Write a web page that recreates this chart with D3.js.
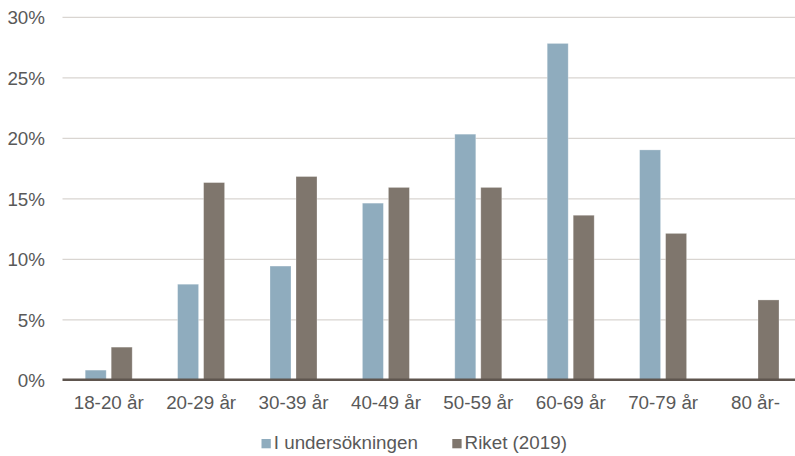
<!DOCTYPE html>
<html>
<head>
<meta charset="utf-8">
<script src="https://cdn.jsdelivr.net/npm/d3@7"></script>
<style>
  html, body { margin: 0; padding: 0; background: #fff; }
  svg { display: block; }
  text { font-family: "Liberation Sans", Arial, sans-serif; }
</style>
</head>
<body>
<svg id="chart" width="795" height="456"></svg>
<script>
// Age groups and shares (percent) per series
const categories = ["18-20 år", "20-29 år", "30-39 år", "40-49 år", "50-59 år", "60-69 år", "70-79 år", "80 år-"];
const seriesNames = ["I undersökningen", "Riket (2019)"];
const undersokningen = [0.8, 7.9, 9.4, 14.6, 20.3, 27.8, 19.0, 0];
const riket = [2.7, 16.3, 16.8, 15.9, 15.9, 13.6, 12.1, 6.6];
const yTicks = [0, 5, 10, 15, 20, 25, 30];
const colors = ["#8FACBE", "#7F766D"];

const svg = d3.select("#chart");
const W = 795, H = 456;
const plotLeft = 62.5, plotRight = 801.7;
const plotTop = 16.8, plotBottom = 379.8;

const x = d3.scaleBand().domain(categories).range([plotLeft, plotRight]).padding(0);
const x1 = d3.scaleBand().domain(seriesNames).range([-23.5, 23.5]).paddingInner(5 / 26).paddingOuter(0);
const y = d3.scaleLinear().domain([0, 30]).range([plotBottom, plotTop]);

const values = [undersokningen, riket];

// Gridlines
const grid = svg.append("g")
  .attr("transform", `translate(${plotLeft},0)`)
  .call(d3.axisLeft(y).tickValues(yTicks.filter(t => t > 0)).tickSize(-(W - plotLeft)).tickFormat(""));
grid.select(".domain").remove();
grid.selectAll(".tick line").attr("stroke", "#D9D5D1").attr("stroke-width", 1.3);

// Y tick labels
const yAxis = svg.append("g")
  .attr("transform", `translate(45,0)`)
  .call(d3.axisLeft(y).tickValues(yTicks).tickSize(0).tickPadding(0).tickFormat(d => d + "%"));
yAxis.select(".domain").remove();
yAxis.selectAll("text")
  .attr("fill", "#595959")
  .style("font-size", "18.8px")
  .attr("dy", "0.36em");

// Bars
const groups = svg.append("g").selectAll("g")
  .data(categories)
  .join("g")
  .attr("transform", d => `translate(${x(d) + x.bandwidth() / 2},0)`);

groups.selectAll("rect")
  .data((c, i) => seriesNames.map((s, k) => ({ s, k, v: values[k][i] })))
  .join("rect")
  .filter(d => d.v > 0)
  .attr("x", d => x1(d.s))
  .attr("width", x1.bandwidth())
  .attr("y", d => y(d.v))
  .attr("height", d => y(0) - y(d.v))
  .attr("fill", d => colors[d.k])
  .attr("stroke", "#ffffff")
  .attr("stroke-opacity", 0.35)
  .attr("stroke-width", 0.8);

// X axis
const xAxis = svg.append("g")
  .attr("transform", `translate(0,${plotBottom})`)
  .call(d3.axisBottom(x).tickSize(0).tickPadding(0));
xAxis.select(".domain").remove();
xAxis.selectAll("text")
  .attr("fill", "#595959")
  .style("font-size", "18.8px")
  .attr("y", 29.5)
  .attr("dy", 0);

svg.append("line")
  .attr("x1", plotLeft).attr("x2", W)
  .attr("y1", plotBottom).attr("y2", plotBottom)
  .attr("stroke", "#5E554E")
  .attr("stroke-width", 2.4);

// Legend
const legendItems = [
  { name: seriesNames[0], color: colors[0], x: 261.5 },
  { name: seriesNames[1], color: colors[1], x: 452.3 }
];
const lg = svg.append("g").selectAll("g").data(legendItems).join("g")
  .attr("transform", d => `translate(${d.x},0)`);
lg.append("rect")
  .attr("x", 0).attr("y", 439).attr("width", 9.3).attr("height", 9.3)
  .attr("fill", d => d.color);
lg.append("text")
  .attr("x", 12.3).attr("y", 449.3)
  .attr("fill", "#595959")
  .style("font-size", "18.8px")
  .text(d => d.name);
</script>
</body>
</html>
